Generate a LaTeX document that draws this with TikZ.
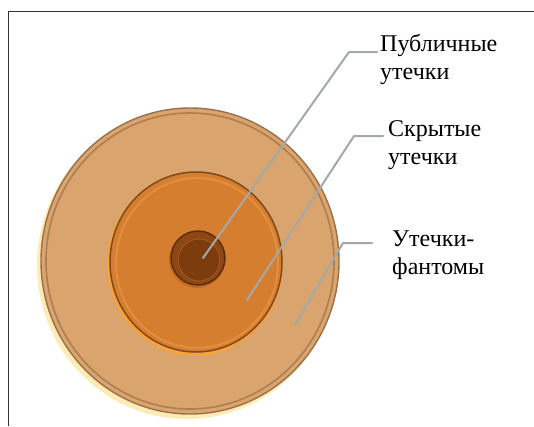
\documentclass[tikz,border=0pt]{standalone}
\usepackage{fontspec}
\setmainfont{Liberation Serif}
\definecolor{frameC}{HTML}{333333}
\definecolor{haloC}{HTML}{FFEBB5}
\definecolor{outerC}{HTML}{D9A46E}
\definecolor{outerEdge}{HTML}{9A7048}
\definecolor{outerRim}{HTML}{9C6E42}
\definecolor{midGlow}{HTML}{F7A23C}
\definecolor{midC}{HTML}{D67E30}
\definecolor{midEdge}{HTML}{7C4A1E}
\definecolor{midHi}{HTML}{EE9A45}
\definecolor{inGlow}{HTML}{C06A25}
\definecolor{inC}{HTML}{8E4614}
\definecolor{inEdge}{HTML}{5E2E0C}
\definecolor{inCore}{HTML}{7C3C0E}
\definecolor{inHi}{HTML}{A0581E}
\definecolor{leadC}{HTML}{A3A9A8}
\begin{document}
\begin{tikzpicture}[x=1pt,y=-1pt,
  leader/.style={draw=leadC,line width=2pt,line join=round,line cap=round},
  lbl/.style={anchor=base west,inner sep=0pt,align=left,font=\fontsize{24}{27.5}\selectfont}]
\useasboundingbox (0,0) rectangle (534,426);
\fill[white] (0,0) rectangle (534,426);
% frame
\draw[frameC,line width=1.3pt] (8.5,426) -- (8.5,11.5) -- (534,11.5);
% outer disk
\fill[haloC] (187,265) ellipse [x radius=150,y radius=154];
\filldraw[fill=outerC,draw=outerEdge,line width=1.4pt] (190,261) ellipse [x radius=149,y radius=153];
\draw[outerRim,line width=1.6pt,opacity=0.7] (190,261) ellipse [x radius=144,y radius=148];
% middle disk
\fill[midGlow] (195,264) ellipse [x radius=88,y radius=92];
\filldraw[fill=midC,draw=midEdge,line width=1.5pt] (196,262) ellipse [x radius=86,y radius=90];
\draw[midHi,line width=2pt,opacity=0.6] (197,263) ellipse [x radius=81,y radius=85];
% inner disk
\fill[inGlow] (197,260) circle [radius=28];
\filldraw[fill=inC,draw=inEdge,line width=1.5pt] (198,258) circle [radius=27];
\filldraw[fill=inCore,draw=inHi,line width=1pt] (199,260) circle [radius=21];
% labels (anchored at baseline of last line)
\node[lbl] (t1) at (380,79) {Публичные\\утечки};
\node[lbl] (t2) at (388,164) {Скрытые\\утечки};
\node[lbl] (t3) at (392,274) {Утечки-\\фантомы};
% leader points
\coordinate (e1) at (203,258);
\coordinate (k1) at (349,52);
\coordinate (f1) at (377,52);
\coordinate (e2) at (247,300);
\coordinate (k2) at (354,136);
\coordinate (f2) at (383,136);
\coordinate (e3) at (295,325);
\coordinate (k3) at (343,243);
\coordinate (f3) at (372,243);
\draw[leader] (e1) -- (k1) -- (f1);
\draw[leader] (e2) -- (k2) -- (f2);
\draw[leader] (e3) -- (k3) -- (f3);
\end{tikzpicture}
\end{document}
